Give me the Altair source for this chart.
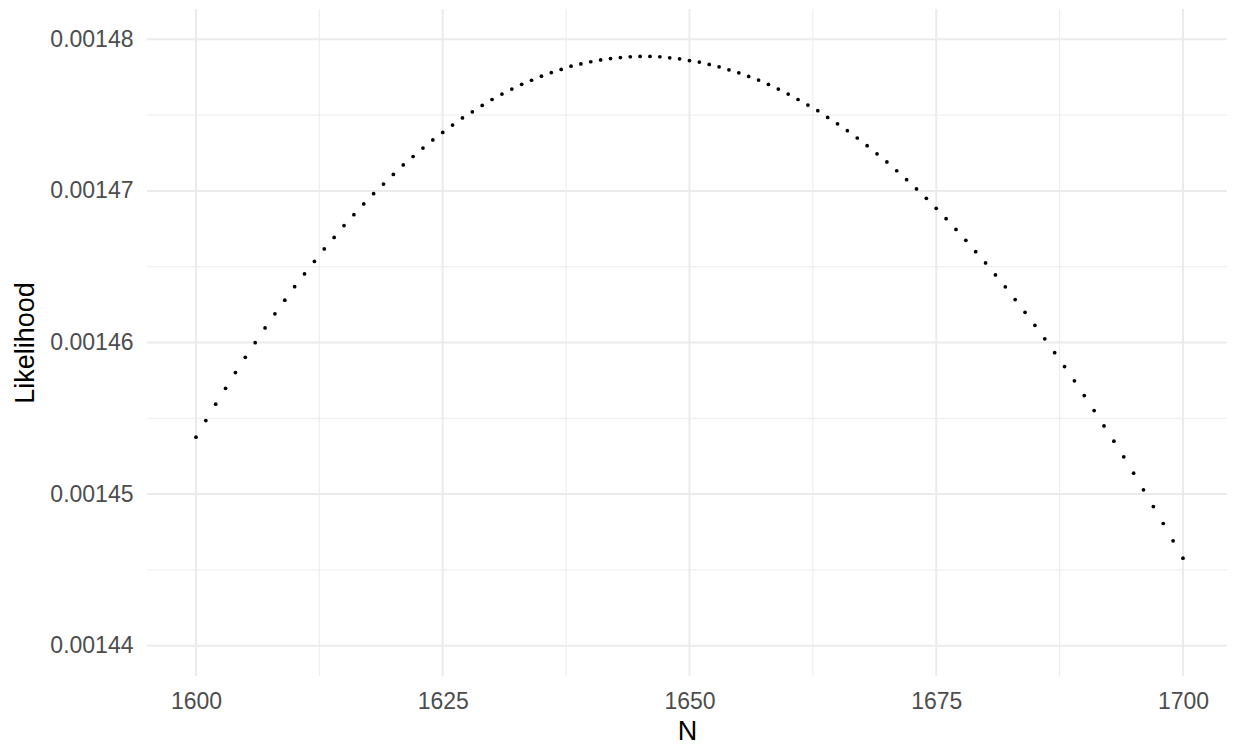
import altair as alt
import pandas as pd

# N values (x) and likelihood values (y)
n_values = list(range(1600, 1701))
likelihood = [
    0.00145375, 0.00145485, 0.00145593, 0.00145698, 0.00145802,
    0.00145902, 0.00145999, 0.00146096, 0.00146189, 0.00146279,
    0.00146368, 0.00146452, 0.00146535, 0.00146617, 0.00146693,
    0.00146771, 0.00146843, 0.00146914, 0.00146982, 0.00147045,
    0.00147109, 0.00147171, 0.00147227, 0.00147283, 0.00147336,
    0.00147386, 0.00147434, 0.00147481, 0.00147522, 0.00147564,
    0.00147603, 0.00147639, 0.00147672, 0.00147703, 0.00147730,
    0.00147757, 0.00147781, 0.00147801, 0.00147823, 0.00147838,
    0.00147852, 0.00147864, 0.00147873, 0.00147880, 0.00147885,
    0.00147887, 0.00147887, 0.00147885, 0.00147878, 0.00147871,
    0.00147860, 0.00147850, 0.00147834, 0.00147819, 0.00147799,
    0.00147779, 0.00147755, 0.00147731, 0.00147702, 0.00147672,
    0.00147639, 0.00147603, 0.00147566, 0.00147529, 0.00147485,
    0.00147443, 0.00147397, 0.00147349, 0.00147298, 0.00147245,
    0.00147191, 0.00147133, 0.00147074, 0.00147013, 0.00146951,
    0.00146885, 0.00146817, 0.00146746, 0.00146674, 0.00146599,
    0.00146525, 0.00146446, 0.00146367, 0.00146283, 0.00146199,
    0.00146113, 0.00146024, 0.00145933, 0.00145841, 0.00145747,
    0.00145650, 0.00145551, 0.00145450, 0.00145349, 0.00145246,
    0.00145138, 0.00145028, 0.00144918, 0.00144806, 0.00144692,
    0.00144577,
]

x_major = [1600, 1625, 1650, 1675, 1700]
x_minor = [1612.5, 1637.5, 1662.5, 1687.5]
y_major = [0.00144, 0.00145, 0.00146, 0.00147, 0.00148]
y_minor = [0.001445, 0.001455, 0.001465, 0.001475]

df = pd.DataFrame({"N": n_values, "Likelihood": likelihood})

xscale = alt.Scale(domain=[1595.04, 1704.46], nice=False, zero=False)
yscale = alt.Scale(domain=[0.001438, 0.001482], nice=False, zero=False)

FONT = "Liberation Sans"
GRID = "#EBEBEB"

x_axis = alt.Axis(
    values=x_major, format="d", grid=False, ticks=False, tickSize=0, domain=False,
    labelFont=FONT, labelFontSize=23, labelColor="#4D4D4D",
    labelBaseline="alphabetic", labelPadding=32,
    title="N", titleFont=FONT, titleFontSize=27, titleColor="#000000",
    titleFontWeight="normal", titleBaseline="alphabetic", titleY=63,
)
y_axis = alt.Axis(
    values=y_major, format=".5f", grid=False, ticks=False, tickSize=0, domain=False,
    labelFont=FONT, labelFontSize=23, labelColor="#4D4D4D",
    labelBaseline="middle", labelPadding=14,
    title="Likelihood", titleFont=FONT, titleFontSize=27, titleColor="#000000",
    titleFontWeight="normal", titleBaseline="alphabetic", titleAngle=270,
    titleAlign="center", titleX=-114, titleY=333.5,
)

vminor = alt.Chart(pd.DataFrame({"v": x_minor})).mark_rule(
    color=GRID, strokeWidth=1).encode(x=alt.X("v:Q", scale=xscale))
hminor = alt.Chart(pd.DataFrame({"v": y_minor})).mark_rule(
    color=GRID, strokeWidth=1).encode(y=alt.Y("v:Q", scale=yscale))
vmajor = alt.Chart(pd.DataFrame({"v": x_major})).mark_rule(
    color=GRID, strokeWidth=2).encode(x=alt.X("v:Q", scale=xscale))
hmajor = alt.Chart(pd.DataFrame({"v": y_major})).mark_rule(
    color=GRID, strokeWidth=2).encode(y=alt.Y("v:Q", scale=yscale))

points = alt.Chart(df).mark_circle(size=14, color="black", opacity=1).encode(
    x=alt.X("N:Q", scale=xscale, axis=x_axis),
    y=alt.Y("Likelihood:Q", scale=yscale, axis=y_axis),
)

chart = alt.layer(vminor, hminor, vmajor, hmajor, points).properties(
    width=1080, height=667,
    autosize=alt.AutoSizeParams(type="none"),
    padding={"left": 139, "top": 1, "right": 0, "bottom": 70},
    background="white",
).configure_view(stroke=None)

chart.save("out.html", embed_options={"renderer": "svg", "actions": False})
